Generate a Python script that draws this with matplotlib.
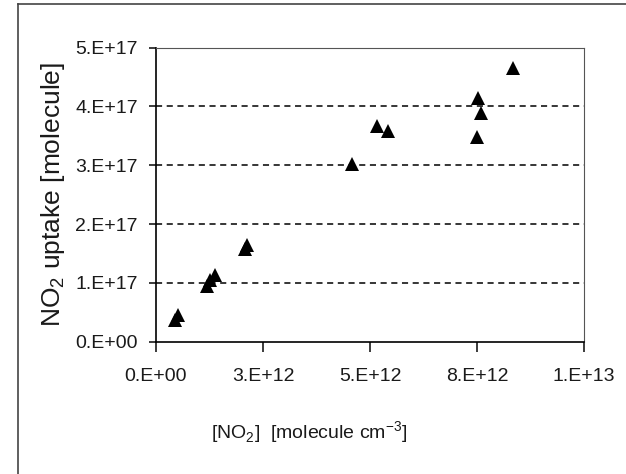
import matplotlib.pyplot as plt
from matplotlib.lines import Line2D

# [NO2] in molecule cm-3 and NO2 uptake in molecule
no2_conc = [0.44e12, 0.52e12, 1.18e12, 1.26e12, 1.38e12, 2.08e12, 2.13e12,
            4.59e12, 5.17e12, 5.43e12, 7.51e12, 7.53e12, 7.59e12, 8.35e12]
no2_uptake = [0.37e17, 0.45e17, 0.94e17, 1.05e17, 1.13e17, 1.58e17, 1.65e17,
              3.02e17, 3.67e17, 3.58e17, 3.48e17, 4.14e17, 3.89e17, 4.65e17]
xticks = [0, 2.5e12, 5e12, 7.5e12, 1e13]
xtick_labels = ['0.E+00', '3.E+12', '5.E+12', '8.E+12', '1.E+13']
yticks = [0, 1e17, 2e17, 3e17, 4e17, 5e17]
ytick_labels = ['0.E+00', '1.E+17', '2.E+17', '3.E+17', '4.E+17', '5.E+17']

plt.rcParams['font.family'] = ['Liberation Sans', 'DejaVu Sans']
plt.rcParams['mathtext.fontset'] = 'custom'
plt.rcParams['mathtext.rm'] = 'Liberation Sans'
txt = '#1a1a1a'

fig = plt.figure(figsize=(6.26, 4.74), dpi=100)
ax = fig.add_axes([0.2492, 0.279, 0.6837, 0.6204])

ax.plot(no2_conc, no2_uptake, '^', color='black', markersize=10, markeredgewidth=0)

ax.set_xlim(0, 1e13)
ax.set_ylim(0, 5e17)
ax.set_xticks(xticks)
ax.set_xticklabels(xtick_labels)
ax.set_yticks(yticks)
ax.set_yticklabels(ytick_labels)
ax.tick_params(axis='x', direction='out', length=7, width=1.2, labelsize=14, pad=12, colors=txt)
ax.tick_params(axis='y', direction='out', length=5, width=1.2, labelsize=14, pad=8, colors=txt)

for y in yticks[1:-1]:
    ax.axhline(y, color='black', linestyle=(0, (4, 3)), linewidth=1.1, zorder=0)

ax.spines['left'].set_color('black')
ax.spines['bottom'].set_color('black')
ax.spines['left'].set_linewidth(1.2)
ax.spines['bottom'].set_linewidth(1.2)
ax.spines['top'].set_color('#555555')
ax.spines['right'].set_color('#555555')

ax.set_ylabel('NO$_\\mathrm{2}$ uptake [molecule]', fontsize=19, color=txt, labelpad=6)
fig.text(0.494, 0.087, '[NO$_\\mathrm{2}$]  [molecule cm$^\\mathrm{-3}$]', fontsize=14, color=txt,
         ha='center', va='center')

# outer chart border (only left and top visible)
fig.add_artist(Line2D([18 / 626, 18 / 626], [0, 1 - 4 / 474], transform=fig.transFigure,
                      color='#444444', linewidth=1.2))
fig.add_artist(Line2D([18 / 626, 1], [1 - 4 / 474, 1 - 4 / 474], transform=fig.transFigure,
                      color='#444444', linewidth=1.2))

fig.savefig('out.png', dpi=100)
